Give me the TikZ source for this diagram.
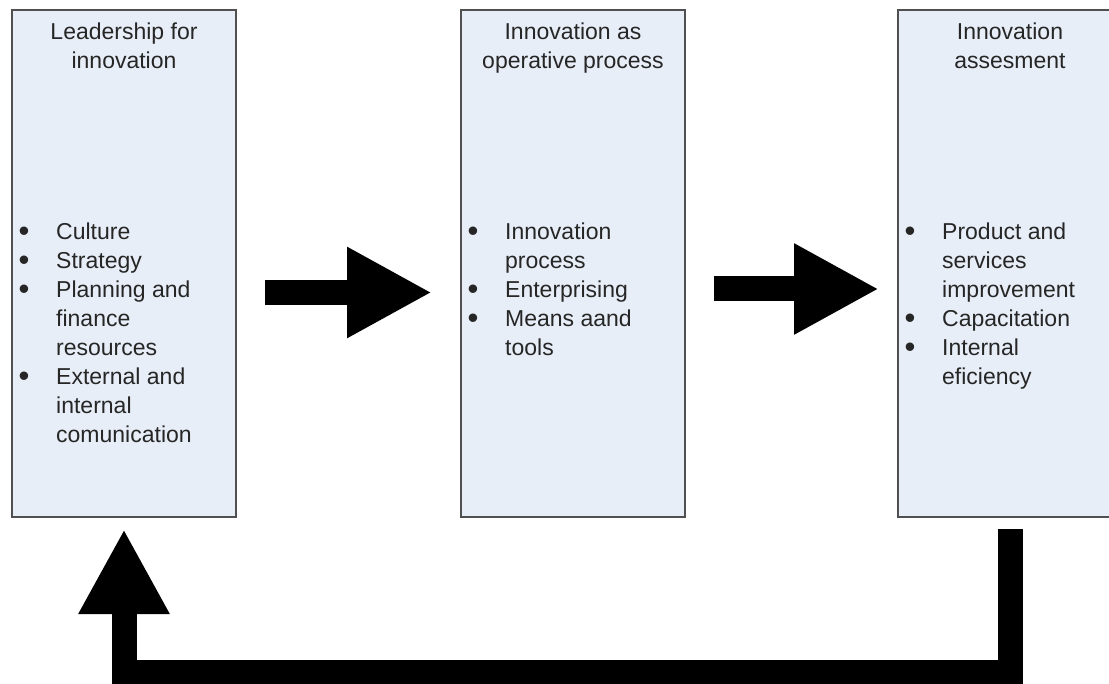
\documentclass[tikz,border=0pt]{standalone}
\usepackage{fontspec}
\setmainfont{Liberation Sans}
\usetikzlibrary{arrows.meta}

\definecolor{boxfill}{HTML}{E8EEF7}
\definecolor{boxline}{HTML}{505050}

\tikzset{
  stage/.style={draw=boxline, line width=2pt, fill=boxfill,
    minimum width=224pt, minimum height=507pt, inner sep=0pt},
  heading/.style={anchor=north, align=center, inner sep=0pt, text=black!85,
    font=\fontsize{23}{29}\selectfont},
  items/.style={anchor=north west, align=left, inner sep=0pt, text=black!85,
    font=\fontsize{23}{29}\selectfont},
  bigarrow/.style={line width=25pt, -{Triangle[length=85pt,width=85pt]}}
}
% bullet and hanging indent for the lists
\newcommand{\itm}{\makebox[37.5pt][l]{\raisebox{-2.5pt}{\fontsize{31}{29}\selectfont\textbullet}}}
\newcommand{\hang}{\hspace*{37.5pt}}

\begin{document}
\begin{tikzpicture}[x=1pt, y=-1pt]
  \clip (0,0) rectangle (1109,684);

  % the three stages
  \node[stage] (lead) at (124,263.5) {};
  \node[stage] (oper) at (573,263.5) {};
  \node[stage] (asse) at (1010,263.5) {};

  \node[heading] (leadtitle) at (124,22.3) {Leadership for\\innovation};
  \node[heading] (opertitle) at (573,22.3) {Innovation as\\operative process};
  \node[heading] (assetitle) at (1010,22.3) {Innovation\\assesment};

  \node[items] (leaditems) at (18.5,222.4) {%
    \itm Culture\\
    \itm Strategy\\
    \itm Planning and\\
    \hang finance\\
    \hang resources\\
    \itm External and\\
    \hang internal\\
    \hang comunication};
  \node[items] (operitems) at (467.5,222.4) {%
    \itm Innovation\\
    \hang process\\
    \itm Enterprising\\
    \itm Means aand\\
    \hang tools};
  \node[items] (asseitems) at (904.5,222.4) {%
    \itm Product and\\
    \hang services\\
    \hang improvement\\
    \itm Capacitation\\
    \itm Internal\\
    \hang eficiency};

  % flow between the stages
  \draw[bigarrow, shorten <=28pt, shorten >=28pt]
    ([yshift=-29pt]lead.east) -- ([yshift=-29pt]oper.west);
  \draw[bigarrow, shorten <=28pt, shorten >=18pt]
    ([yshift=-25.5pt]oper.east) -- ([yshift=-25.5pt]asse.west);

  % feedback loop back to the first stage
  \coordinate (back) at (560,672);
  \draw[bigarrow, shorten <=11pt, shorten >=11pt]
    (asse.south) |- (back) -| (lead.south);
\end{tikzpicture}
\end{document}
